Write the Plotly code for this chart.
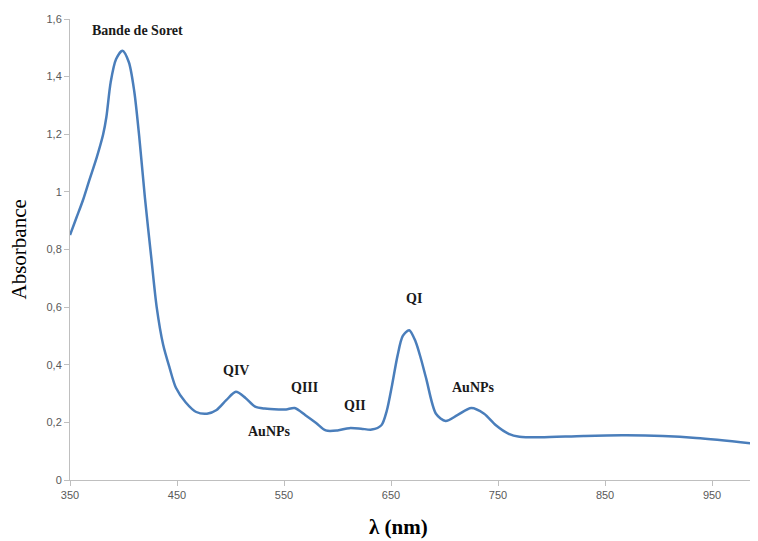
import plotly.graph_objects as go

wavelength = [350, 356, 362, 368, 375, 381, 384, 388, 393, 399, 405, 410, 415, 420, 426, 431, 437,
              443, 449, 458, 468, 478, 487, 496, 505, 514, 523, 532, 545, 552, 560, 570, 580,
              589, 600, 611, 622, 632, 641, 646, 651, 656, 661, 667, 673, 678, 683, 692, 701, 712,
              725, 737, 748, 760, 770, 790, 830, 870, 935, 992]
absorbance = [0.85, 0.91, 0.97, 1.04, 1.12, 1.20, 1.26, 1.38, 1.46, 1.49, 1.45, 1.35, 1.18, 0.98, 0.77,
              0.60, 0.47, 0.39, 0.32, 0.27, 0.236, 0.23, 0.243, 0.277, 0.306, 0.285, 0.255, 0.248,
              0.245, 0.245, 0.25, 0.225, 0.198, 0.172, 0.172, 0.18, 0.178, 0.175, 0.19, 0.24, 0.33,
              0.43, 0.50, 0.52, 0.48, 0.42, 0.35, 0.23, 0.205, 0.225, 0.25, 0.23, 0.19, 0.16, 0.15,
              0.148, 0.153, 0.155, 0.146, 0.125]

x_ticks = [350, 450, 550, 650, 750, 850, 950]
y_ticks = [0, 0.2, 0.4, 0.6, 0.8, 1.0, 1.2, 1.4, 1.6]
y_tick_labels = ["0", "0,2", "0,4", "0,6", "0,8", "1", "1,2", "1,4", "1,6"]

labels = ["Bande de Soret", "QIV", "AuNPs", "QIII", "QII", "QI", "AuNPs"]
label_x = [413, 505, 536, 569, 616, 671, 727]
label_y = [1.56, 0.38, 0.17, 0.32, 0.26, 0.63, 0.32]

# page offset of 8px (browser body margin) compensated in the figure size
W, H = 750, 533
ML, MR, MT, MB = 62, 1, 11, 61
PW, PH = W - ML - MR, H - MT - MB

fig = go.Figure()
fig.add_trace(go.Scatter(
    x=wavelength, y=absorbance, mode="lines",
    line=dict(color="#4a7ebb", width=2.5, shape="spline", smoothing=0.8),
    showlegend=False, hoverinfo="skip"))

for t, lx, ly in zip(labels, label_x, label_y):
    fig.add_annotation(x=lx, y=ly, text=f"<b>{t}</b>", showarrow=False,
                       font=dict(family="Liberation Serif", size=14, color="#1a1a1a"))

fig.add_annotation(xref="paper", yref="paper", x=(10 - ML) / PW, y=0.5,
                   text="Absorbance", textangle=-90, showarrow=False,
                   xanchor="center", yanchor="middle",
                   font=dict(family="Liberation Serif", size=21, color="#000000"))
fig.add_annotation(xref="paper", yref="paper", x=(390 - ML) / PW, y=-(519 - (H - MB)) / PH,
                   text="<b>λ (nm)</b>", showarrow=False,
                   xanchor="center", yanchor="middle",
                   font=dict(family="Liberation Serif", size=21, color="#000000"))

axis_common = dict(showgrid=False, zeroline=False, showline=True, linecolor="#bfbfbf",
                   linewidth=1, ticks="outside", tickcolor="#bfbfbf", ticklen=5,
                   tickfont=dict(family="Liberation Sans", size=11, color="#595959"))

fig.update_xaxes(range=[350, 992], tickvals=x_ticks, **axis_common)
fig.update_yaxes(range=[0, 1.6], tickvals=y_ticks, ticktext=y_tick_labels, **axis_common)

fig.update_layout(width=W, height=H, margin=dict(l=ML, r=MR, t=MT, b=MB),
                  plot_bgcolor="white", paper_bgcolor="white")

fig.write_html("out.html")
